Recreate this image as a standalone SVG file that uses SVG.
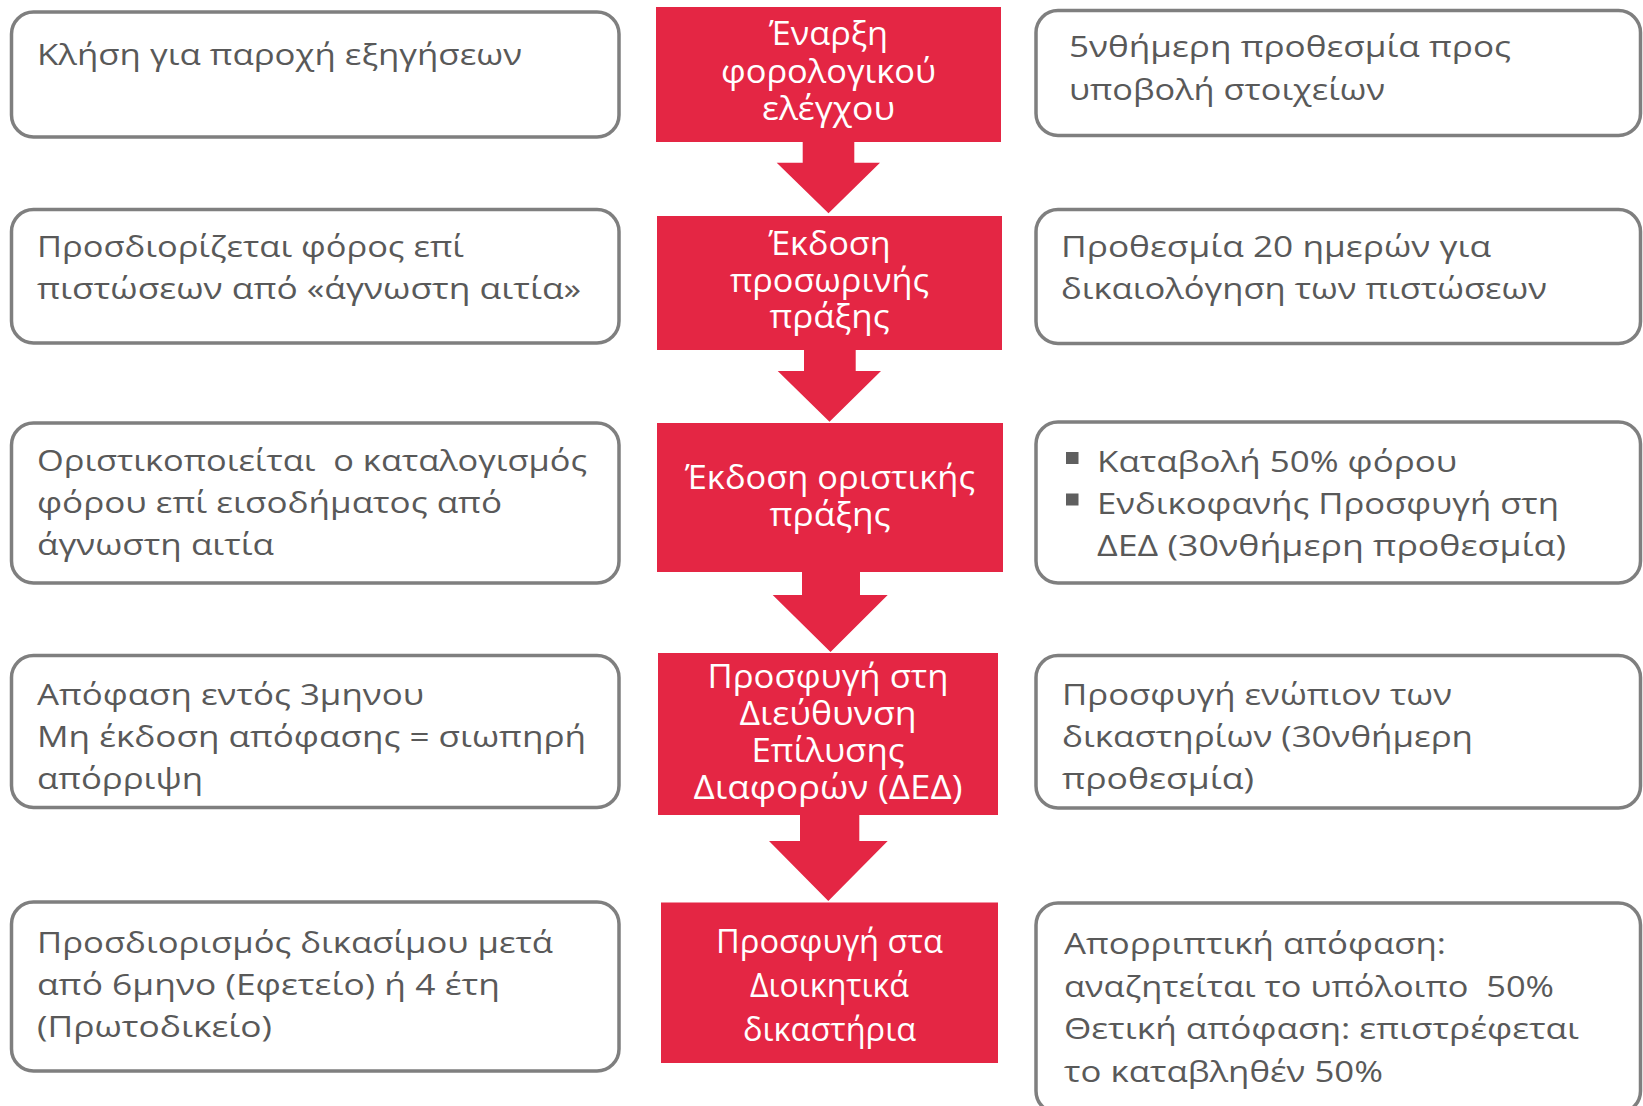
<svg xmlns="http://www.w3.org/2000/svg" width="1643" height="1106" viewBox="0 0 1643 1106">
  <style>
    .box{fill:#ffffff;stroke:#7f7f7f;stroke-width:3.5}
    .step{fill:#e42644}
    .arrow{fill:#e42644}
    .bullet{fill:#5f5f5f}
    .t{font-family:"Open Sans","Noto Sans","DejaVu Sans",sans-serif;font-size:30px;fill:#595959}
    .w{font-family:"Open Sans","Noto Sans","DejaVu Sans",sans-serif;font-size:32px;fill:#ffffff;text-anchor:middle}
  </style>
  <rect width="1643" height="1106" fill="#ffffff"/>

  <!-- left column: consequences -->
  <g id="left-1">
    <rect class="box" x="11.5" y="12" width="607.5" height="125" rx="22"/>
    <text class="t" x="37" y="65" textLength="485" lengthAdjust="spacingAndGlyphs">Κλήση για παροχή εξηγήσεων</text>
  </g>
  <g id="left-2">
    <rect class="box" x="11.5" y="209.5" width="607.5" height="133.5" rx="22"/>
    <text class="t" x="37" y="257" textLength="427" lengthAdjust="spacingAndGlyphs">Προσδιορίζεται φόρος επί</text>
    <text class="t" x="37" y="298.5" textLength="544" lengthAdjust="spacingAndGlyphs">πιστώσεων από «άγνωστη αιτία»</text>
  </g>
  <g id="left-3">
    <rect class="box" x="11.5" y="423" width="607.5" height="160" rx="22"/>
    <text class="t" x="37" y="471" textLength="550" lengthAdjust="spacingAndGlyphs" xml:space="preserve">Οριστικοποιείται  ο καταλογισμός</text>
    <text class="t" x="37" y="513" textLength="465" lengthAdjust="spacingAndGlyphs">φόρου επί εισοδήματος από</text>
    <text class="t" x="37" y="555" textLength="237" lengthAdjust="spacingAndGlyphs">άγνωστη αιτία</text>
  </g>
  <g id="left-4">
    <rect class="box" x="11.5" y="655.5" width="607.5" height="152" rx="22"/>
    <text class="t" x="37" y="704.5" textLength="387" lengthAdjust="spacingAndGlyphs">Απόφαση εντός 3μηνου</text>
    <text class="t" x="37" y="746.5" textLength="549" lengthAdjust="spacingAndGlyphs">Μη έκδοση απόφασης = σιωπηρή</text>
    <text class="t" x="37" y="788.5" textLength="166" lengthAdjust="spacingAndGlyphs">απόρριψη</text>
  </g>
  <g id="left-5">
    <rect class="box" x="11.5" y="902" width="607.5" height="169" rx="22"/>
    <text class="t" x="37" y="953" textLength="516" lengthAdjust="spacingAndGlyphs">Προσδιορισμός δικασίμου μετά</text>
    <text class="t" x="37" y="995" textLength="463" lengthAdjust="spacingAndGlyphs">από 6μηνο (Εφετείο) ή 4 έτη</text>
    <text class="t" x="37" y="1037" textLength="235" lengthAdjust="spacingAndGlyphs">(Πρωτοδικείο)</text>
  </g>

  <!-- centre column: procedure steps -->
  <g id="step-1">
    <rect class="step" x="656" y="7" width="345" height="135"/>
    <text class="w" x="828.5" y="45" textLength="119" lengthAdjust="spacingAndGlyphs">Έναρξη</text>
    <text class="w" x="828.5" y="82.5" textLength="215" lengthAdjust="spacingAndGlyphs">φορολογικού</text>
    <text class="w" x="828.5" y="120" textLength="133" lengthAdjust="spacingAndGlyphs">ελέγχου</text>
  </g>
  <g id="step-2">
    <rect class="step" x="657" y="216" width="345" height="134"/>
    <text class="w" x="829.5" y="255" textLength="122" lengthAdjust="spacingAndGlyphs">Έκδοση</text>
    <text class="w" x="829.5" y="291.5" textLength="199" lengthAdjust="spacingAndGlyphs">προσωρινής</text>
    <text class="w" x="829.5" y="328" textLength="120" lengthAdjust="spacingAndGlyphs">πράξης</text>
  </g>
  <g id="step-3">
    <rect class="step" x="657" y="423" width="346" height="149"/>
    <text class="w" x="830" y="489" textLength="290" lengthAdjust="spacingAndGlyphs">Έκδοση οριστικής</text>
    <text class="w" x="830" y="525.5" textLength="121" lengthAdjust="spacingAndGlyphs">πράξης</text>
  </g>
  <g id="step-4">
    <rect class="step" x="658" y="653" width="340" height="162"/>
    <text class="w" x="828" y="688" textLength="241" lengthAdjust="spacingAndGlyphs">Προσφυγή στη</text>
    <text class="w" x="828" y="725" textLength="177" lengthAdjust="spacingAndGlyphs">Διεύθυνση</text>
    <text class="w" x="828" y="762" textLength="153" lengthAdjust="spacingAndGlyphs">Επίλυσης</text>
    <text class="w" x="828" y="799" textLength="269" lengthAdjust="spacingAndGlyphs">Διαφορών (ΔΕΔ)</text>
  </g>
  <g id="step-5">
    <rect class="step" x="661" y="902.5" width="337" height="160.5"/>
    <text class="w" x="829.5" y="952.5" textLength="227" lengthAdjust="spacingAndGlyphs">Προσφυγή στα</text>
    <text class="w" x="829.5" y="996.5" textLength="159" lengthAdjust="spacingAndGlyphs">Διοικητικά</text>
    <text class="w" x="829.5" y="1040.5" textLength="173" lengthAdjust="spacingAndGlyphs">δικαστήρια</text>
  </g>

  <!-- right column: deadlines and outcomes -->
  <g id="right-1">
    <rect class="box" x="1036" y="10.5" width="604.5" height="125" rx="22"/>
    <text class="t" x="1069" y="57" textLength="442" lengthAdjust="spacingAndGlyphs">5νθήμερη προθεσμία προς</text>
    <text class="t" x="1069" y="100" textLength="316" lengthAdjust="spacingAndGlyphs">υποβολή στοιχείων</text>
  </g>
  <g id="right-2">
    <rect class="box" x="1036" y="209.5" width="604.5" height="134" rx="22"/>
    <text class="t" x="1061" y="257" textLength="430" lengthAdjust="spacingAndGlyphs">Προθεσμία 20 ημερών για</text>
    <text class="t" x="1061" y="298.5" textLength="486" lengthAdjust="spacingAndGlyphs">δικαιολόγηση των πιστώσεων</text>
  </g>
  <g id="right-3">
    <rect class="box" x="1036" y="422" width="604.5" height="161" rx="22"/>
    <rect class="bullet" x="1066" y="452" width="12.5" height="12"/>
    <rect class="bullet" x="1066" y="493.5" width="12.5" height="12"/>
    <text class="t" x="1097" y="471.5" textLength="360" lengthAdjust="spacingAndGlyphs">Καταβολή 50% φόρου</text>
    <text class="t" x="1097" y="513.5" textLength="462" lengthAdjust="spacingAndGlyphs">Ενδικοφανής Προσφυγή στη</text>
    <text class="t" x="1097" y="555.5" textLength="469" lengthAdjust="spacingAndGlyphs">ΔΕΔ (30νθήμερη προθεσμία)</text>
  </g>
  <g id="right-4">
    <rect class="box" x="1036" y="655.5" width="604.5" height="152.5" rx="22"/>
    <text class="t" x="1062" y="704.5" textLength="390" lengthAdjust="spacingAndGlyphs">Προσφυγή ενώπιον των</text>
    <text class="t" x="1062" y="746.5" textLength="411" lengthAdjust="spacingAndGlyphs">δικαστηρίων (30νθήμερη</text>
    <text class="t" x="1062" y="788.5" textLength="192" lengthAdjust="spacingAndGlyphs">προθεσμία)</text>
  </g>
  <g id="right-5">
    <rect class="box" x="1036" y="903" width="604.5" height="210" rx="22"/>
    <text class="t" x="1064" y="954" textLength="382" lengthAdjust="spacingAndGlyphs">Απορριπτική απόφαση:</text>
    <text class="t" x="1064" y="996.5" textLength="490" lengthAdjust="spacingAndGlyphs" xml:space="preserve">αναζητείται το υπόλοιπο  50%</text>
    <text class="t" x="1064" y="1039" textLength="515" lengthAdjust="spacingAndGlyphs">Θετική απόφαση: επιστρέφεται</text>
    <text class="t" x="1064" y="1081.5" textLength="319" lengthAdjust="spacingAndGlyphs">το καταβληθέν 50%</text>
  </g>

  <!-- block arrows between consecutive steps -->
  <g id="connectors">
    <polygon class="arrow" points="802.7,141 854.3,141 854.3,162.7 880,162.7 828.5,213.3 776.7,162.7 802.7,162.7"/>
    <polygon class="arrow" points="804,349 855.7,349 855.7,371 881,371 829.5,421.7 777.7,371 804,371"/>
    <polygon class="arrow" points="802,571 860,571 860,595 887.7,595 830.5,652 772.7,595 802,595"/>
    <polygon class="arrow" points="800,814 859.3,814 859.3,841 887.7,841 828.3,901 769,841 800,841"/>
  </g>
</svg>
